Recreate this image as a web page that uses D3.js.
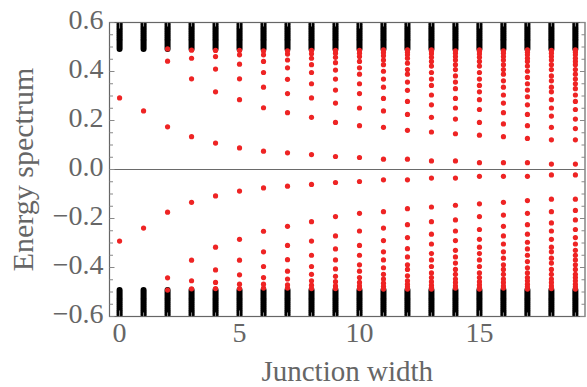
<!DOCTYPE html>
<html>
<head>
<meta charset="utf-8">
<script src="https://cdn.jsdelivr.net/npm/d3@7"></script>
<style>
  html, body { margin: 0; padding: 0; background: #fff; }
  svg text { font-family: "Liberation Serif", "Times New Roman", Times, serif; fill: #666; }
</style>
</head>
<body>
<svg id="chart" width="587" height="387"></svg>
<script>
// junction widths (x) and positive in-gap bound state energies;
// the spectrum is symmetric, negative branch is the mirror
const widths = [0, 1, 2, 3, 4, 5, 6, 7, 8, 9, 10, 11, 12, 13, 14, 15, 16, 17, 18, 19];
const boundStates = [
  [0.292],
  [0.239],
  [0.174, 0.442, 0.492],
  [0.134, 0.370, 0.454, 0.487],
  [0.108, 0.317, 0.410, 0.461, 0.486],
  [0.088, 0.285, 0.370, 0.430, 0.468, 0.486],
  [0.075, 0.252, 0.336, 0.396, 0.441, 0.468, 0.484],
  [0.068, 0.232, 0.310, 0.368, 0.415, 0.447, 0.471, 0.484],
  [0.061, 0.213, 0.292, 0.350, 0.396, 0.428, 0.454, 0.472, 0.486],
  [0.053, 0.192, 0.271, 0.324, 0.369, 0.406, 0.436, 0.458, 0.475, 0.486],
  [0.049, 0.179, 0.251, 0.310, 0.350, 0.389, 0.415, 0.441, 0.461, 0.475, 0.486],
  [0.042, 0.172, 0.239, 0.290, 0.336, 0.369, 0.401, 0.428, 0.447, 0.464, 0.477, 0.488],
  [0.042, 0.160, 0.225, 0.278, 0.323, 0.357, 0.389, 0.408, 0.434, 0.454, 0.468, 0.479, 0.488],
  [0.035, 0.153, 0.213, 0.264, 0.304, 0.343, 0.369, 0.396, 0.422, 0.441, 0.458, 0.472, 0.482, 0.488],
  [0.035, 0.146, 0.206, 0.251, 0.290, 0.330, 0.357, 0.382, 0.408, 0.428, 0.447, 0.461, 0.475, 0.484],
  [0.028, 0.140, 0.192, 0.245, 0.285, 0.317, 0.343, 0.369, 0.396, 0.422, 0.441, 0.458, 0.471, 0.482, 0.488],
  [0.028, 0.134, 0.186, 0.232, 0.271, 0.304, 0.336, 0.362, 0.389, 0.408, 0.428, 0.447, 0.461, 0.475, 0.484],
  [0.028, 0.127, 0.179, 0.225, 0.264, 0.297, 0.324, 0.350, 0.376, 0.401, 0.422, 0.441, 0.454, 0.468, 0.479, 0.488],
  [0.022, 0.121, 0.172, 0.218, 0.251, 0.285, 0.317, 0.336, 0.362, 0.382, 0.408, 0.428, 0.447, 0.461, 0.475, 0.486],
  [0.022, 0.121, 0.167, 0.206, 0.245, 0.278, 0.304, 0.330, 0.350, 0.369, 0.389, 0.408, 0.428, 0.441, 0.454, 0.468, 0.479, 0.488]
];
// continuum levels (|E| above the gap), same band for every width
const continuum = [0.492, 0.500, 0.508, 0.516, 0.524, 0.532, 0.540, 0.548, 0.556, 0.564,
                   0.572, 0.580, 0.588, 0.596, 0.604, 0.612];
const xTickLabels = [0, 5, 10, 15];
const yTickLabels = [-0.6, -0.4, -0.2, 0.0, 0.2, 0.4, 0.6];

const svg = d3.select("#chart");
const plotLeft = 109.5, plotRight = 585, plotTop = 22.5, plotBottom = 316.5;

const x = d3.scaleLinear().domain([-0.42, 19.4]).range([plotLeft, plotRight]);
const y = d3.scaleLinear().domain([-0.6, 0.6]).range([plotBottom, plotTop]);

svg.append("defs").append("clipPath").attr("id", "clip")
  .append("rect").attr("x", plotLeft).attr("y", plotTop)
  .attr("width", plotRight - plotLeft).attr("height", plotBottom - plotTop);

const plot = svg.append("g").attr("clip-path", "url(#clip)");

// zero line
plot.append("line")
  .attr("x1", plotLeft).attr("x2", plotRight)
  .attr("y1", y(0)).attr("y2", y(0))
  .attr("stroke", "#444").attr("stroke-width", 0.8);

// continuum (black)
const cont = [];
widths.forEach(w => continuum.forEach(e => { cont.push([w, e]); cont.push([w, -e]); }));
plot.append("g").selectAll("circle")
  .data(cont)
  .enter()
  .append("circle")
  .attr("cx", d => x(d[0]))
  .attr("cy", d => y(d[1]))
  .attr("r", 3)
  .style("fill", "#000");

// bound states (red)
const bound = [];
widths.forEach((w, i) => boundStates[i].forEach(e => { bound.push([w, e]); bound.push([w, -e]); }));
plot.append("g").selectAll("circle")
  .data(bound)
  .enter()
  .append("circle")
  .attr("cx", d => x(d[0]))
  .attr("cy", d => y(d[1]))
  .attr("r", 2.6)
  .style("fill", "#ee2424");

// frame
svg.append("rect")
  .attr("x", plotLeft).attr("y", plotTop)
  .attr("width", plotRight - plotLeft).attr("height", plotBottom - plotTop)
  .attr("fill", "none").attr("stroke", "#666").attr("stroke-width", 1.2);

// ticks
const ticks = svg.append("g").attr("stroke", "#888").attr("stroke-width", 1);
d3.range(-0.6, 0.6001, 0.05).forEach(v => {
  const major = Math.abs(Math.round(v * 5) - v * 5) < 1e-6;
  const len = major ? 5 : 3.5;
  ticks.append("line").attr("x1", plotLeft).attr("x2", plotLeft + len).attr("y1", y(v)).attr("y2", y(v));
  ticks.append("line").attr("x1", plotRight).attr("x2", plotRight - len).attr("y1", y(v)).attr("y2", y(v));
});
widths.forEach(w => {
  const len = w % 5 === 0 ? 6 : 4;
  ticks.append("line").attr("x1", x(w)).attr("x2", x(w)).attr("y1", plotBottom).attr("y2", plotBottom - len);
  ticks.append("line").attr("x1", x(w)).attr("x2", x(w)).attr("y1", plotTop).attr("y2", plotTop + len);
});

// tick labels
svg.append("g").selectAll("text")
  .data(yTickLabels)
  .enter()
  .append("text")
  .attr("x", plotLeft - 6)
  .attr("y", d => y(d) + 6.5)
  .attr("text-anchor", "end")
  .style("font-size", "28px")
  .text(d => (d < 0 ? "\u2212" : "") + Math.abs(d).toFixed(1));

svg.append("g").selectAll("text")
  .data(xTickLabels)
  .enter()
  .append("text")
  .attr("x", d => x(d))
  .attr("y", 342)
  .attr("text-anchor", "middle")
  .style("font-size", "28px")
  .text(d => d);

// axis titles
svg.append("text")
  .attr("x", (plotLeft + plotRight) / 2)
  .attr("y", 381)
  .attr("text-anchor", "middle")
  .style("font-size", "29px")
  .text("Junction width");

svg.append("text")
  .attr("transform", "translate(33," + ((plotTop + plotBottom) / 2) + ") rotate(-90)")
  .attr("text-anchor", "middle")
  .style("font-size", "30px")
  .text("Energy spectrum");
</script>
</body>
</html>
